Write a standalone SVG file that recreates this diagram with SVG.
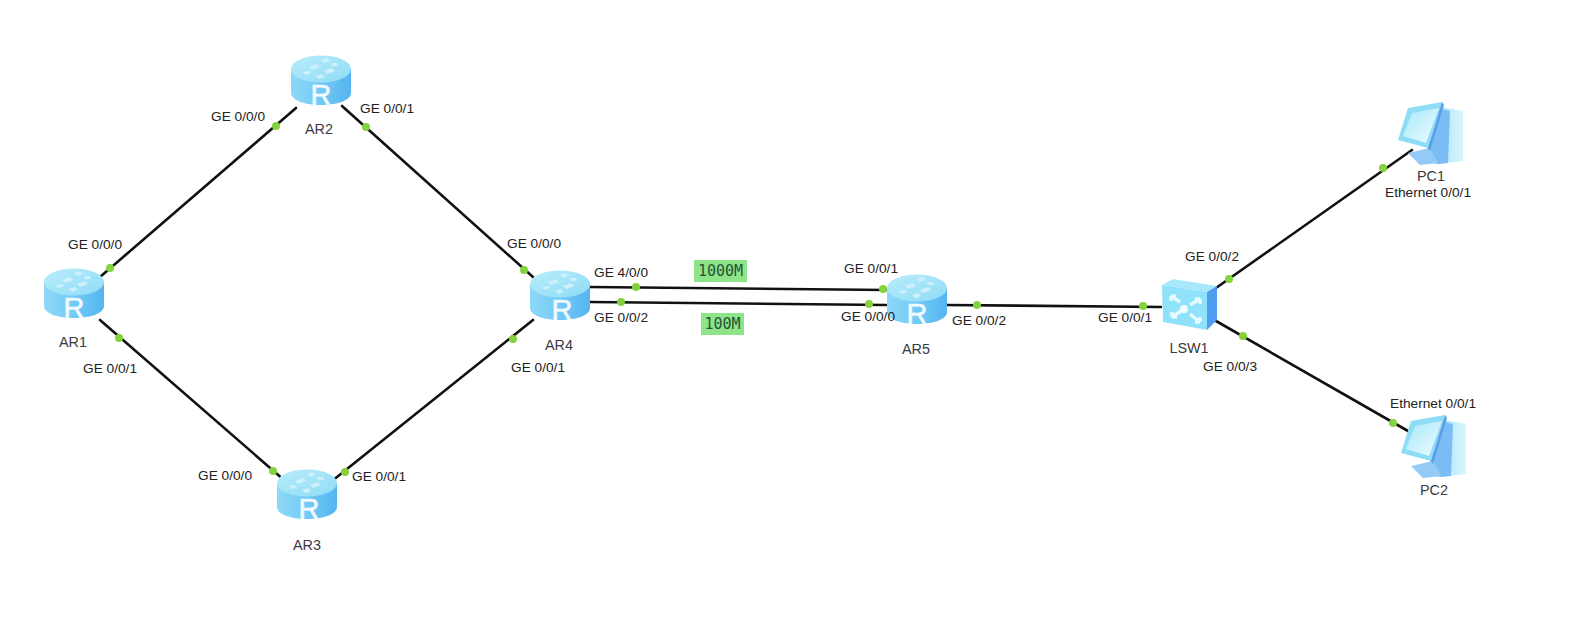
<svg xmlns="http://www.w3.org/2000/svg" width="1584" height="624" viewBox="0 0 1584 624">
<style>
.bg{fill:#fff}
.ln{stroke:#111;stroke-width:2.6;fill:none;stroke-linecap:round}
.dot{fill:#84d23e}
.lb{font:13.7px "Liberation Sans",Arial,sans-serif;fill:#222}
.nm{font:14.4px "Liberation Sans",Arial,sans-serif;fill:#3a3a44;text-anchor:middle}
.r{font:29px "Liberation Sans",Arial,sans-serif;stroke:#f0faff;stroke-width:.6;fill:#f0faff;text-anchor:middle}
.tag{fill:#8fe388}
.tt{font:15px "DejaVu Sans Mono",monospace;fill:#24563a;text-anchor:middle}
</style>
<defs>
<linearGradient id="side" x1="0" x2="1" y1="0" y2="0"><stop offset="0" stop-color="#8ed8f8"/><stop offset=".5" stop-color="#72caf6"/><stop offset="1" stop-color="#55b4f0"/></linearGradient>
<linearGradient id="top" x1="0" x2="1" y1="0" y2="1"><stop offset="0" stop-color="#b8ecfb"/><stop offset="1" stop-color="#8fdcf6"/></linearGradient>
<linearGradient id="scr" x1="0" x2="1" y1="0" y2="1"><stop offset="0" stop-color="#a5e8fa"/><stop offset="1" stop-color="#f0fbff"/></linearGradient>
<linearGradient id="tw" x1="0" x2="1" y1="0" y2="0"><stop offset="0" stop-color="#a8e4fa"/><stop offset="1" stop-color="#d8f6fd"/></linearGradient>
<g id="rt">
<path d="M-30-11V13C-30 20-17 25 0 25S30 20 30 13V-11Z" fill="url(#side)"/>
<ellipse cx="0" cy="-11" rx="30" ry="13.5" fill="url(#top)"/>
<path d="M-12-13l8-3 3 3-8 3zM0-20l6-2 3 3-6 2zM3-9l8-3 3 3-8 3zM-5-4l6-2 3 3-6 2zM-18-8l6-1 2 2-6 2zM10-17l6 0 1 3-6 0z" fill="#cdf1fc"/>
</g>
<g id="pc">
<path d="M30 5L57 10 57 60 32 63Z" fill="url(#tw)"/>
<path d="M36 8L44 10 42 62 32 63 14 60 22 46Z" fill="#7cbcf4"/>
<path d="M2 52L24 47 32 62 14 64Z" fill="#93caf6"/>
<path d="M2 7L36 1 22 47-8 39Z" fill="#8fdcf5"/>
<path d="M6 12L33 7 20 42-3 35Z" fill="url(#scr)"/>
<path d="M36 1L38 4 24 50 22 47Z" fill="#5a9fe8"/>
</g>
</defs>
<rect class="bg" width="1584" height="624"/>
<g id="connectors">
<path class="ln" d="M100 277L296 108"/>
<path class="ln" d="M342 106L533 277"/>
<path class="ln" d="M100 320L284 480"/>
<path class="ln" d="M332 481L533 320"/>
<path class="ln" d="M590 287L886 290"/>
<path class="ln" d="M590 302L886 305"/>
<path class="ln" d="M946 305L1161 307"/>
<path class="ln" d="M1216 288L1412 150"/>
<path class="ln" d="M1216 321L1408 431"/>
<g class="dots">
<circle class="dot" cx="276" cy="126" r="4"/><circle class="dot" cx="110" cy="268" r="4"/>
<circle class="dot" cx="366" cy="127" r="4"/><circle class="dot" cx="524" cy="270" r="4"/>
<circle class="dot" cx="119" cy="338" r="4"/><circle class="dot" cx="273" cy="471" r="4"/>
<circle class="dot" cx="345" cy="472" r="4"/><circle class="dot" cx="513" cy="339" r="4"/>
<circle class="dot" cx="636" cy="287" r="4"/><circle class="dot" cx="621" cy="302" r="4"/>
<circle class="dot" cx="883" cy="289" r="4"/><circle class="dot" cx="869" cy="304" r="4"/>
<circle class="dot" cx="977" cy="305" r="4"/><circle class="dot" cx="1143" cy="306" r="4"/>
<circle class="dot" cx="1229" cy="279" r="4"/><circle class="dot" cx="1243" cy="336" r="4"/>
<circle class="dot" cx="1383" cy="168" r="4"/><circle class="dot" cx="1393" cy="423" r="4"/>
</g>
</g>
<g id="AR1"><use href="#rt" x="74" y="293"/><text class="r" x="74" y="318">R</text><text class="nm" x="73" y="347">AR1</text></g>
<g id="AR2"><use href="#rt" x="321" y="80"/><text class="r" x="321" y="105">R</text><text class="nm" x="319" y="134">AR2</text></g>
<g id="AR3"><use href="#rt" x="307" y="494"/><text class="r" x="309" y="519">R</text><text class="nm" x="307" y="550">AR3</text></g>
<g id="AR4"><use href="#rt" x="560" y="295"/><text class="r" x="562" y="320">R</text><text class="nm" x="559" y="350">AR4</text></g>
<g id="AR5"><use href="#rt" x="917" y="299"/><text class="r" x="917" y="324">R</text><text class="nm" x="916" y="354">AR5</text></g>
<g id="LSW1">
<path d="M1162 285L1173 279 1217 286 1207 292Z" fill="#a8e8fb"/>
<path d="M1162 285L1207 292 1207 330 1163 322Z" fill="#8fe2fa"/>
<path d="M1207 292L1217 286 1217 320 1207 330Z" fill="#4f9df0"/>
<path d="M1171 296l9 6M1171 296v5M1171 296h5M1200 299l-10 6M1200 299h-5M1200 299v5M1172 317l9-6M1172 317h5M1172 317v-5M1200 322l-10-8M1200 322h-5M1200 322v-5" stroke="#e4faff" stroke-width="3.5" fill="none"/>
<circle cx="1184" cy="309" r="4" fill="#f4fdff"/>
<text class="nm" x="1189" y="353">LSW1</text>
</g>
<g id="PC1"><use href="#pc" x="1406" y="101"/><text class="nm" x="1431" y="181">PC1</text><text class="lb" x="1385" y="197">Ethernet 0/0/1</text></g>
<g id="PC2"><use href="#pc" x="1409" y="414"/><text class="nm" x="1434" y="495">PC2</text><text class="lb" x="1390" y="408">Ethernet 0/0/1</text></g>
<g id="labels">
<text class="lb" x="211" y="121">GE 0/0/0</text>
<text class="lb" x="360" y="113">GE 0/0/1</text>
<text class="lb" x="68" y="249">GE 0/0/0</text>
<text class="lb" x="83" y="373">GE 0/0/1</text>
<text class="lb" x="198" y="480">GE 0/0/0</text>
<text class="lb" x="352" y="481">GE 0/0/1</text>
<text class="lb" x="507" y="248">GE 0/0/0</text>
<text class="lb" x="511" y="372">GE 0/0/1</text>
<text class="lb" x="594" y="277">GE 4/0/0</text>
<text class="lb" x="594" y="322">GE 0/0/2</text>
<text class="lb" x="844" y="273">GE 0/0/1</text>
<text class="lb" x="841" y="321">GE 0/0/0</text>
<text class="lb" x="952" y="325">GE 0/0/2</text>
<text class="lb" x="1098" y="322">GE 0/0/1</text>
<text class="lb" x="1185" y="261">GE 0/0/2</text>
<text class="lb" x="1203" y="371">GE 0/0/3</text>
<rect class="tag" x="694" y="260" width="53" height="22"/><text class="tt" x="720.5" y="276">1000M</text>
<rect class="tag" x="701" y="313" width="43" height="22"/><text class="tt" x="722.5" y="329">100M</text>
</g>
</svg>
